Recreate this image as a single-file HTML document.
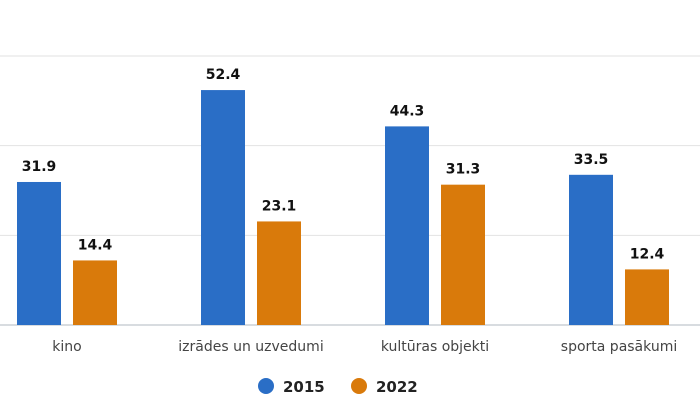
<!DOCTYPE html>
<html><head><meta charset="utf-8"><style>
body{margin:0;background:#fff;font-family:"DejaVu Sans","Liberation Sans",sans-serif;}
svg{display:block}
</style></head><body>
<svg id="c" width="700" height="402"></svg>
<script>
const categories=["kino","izrādes un uzvedumi","kultūras objekti","sporta pasākumi"];
const series2015=[31.9,52.4,44.3,33.5];
const series2022=[14.4,23.1,31.3,12.4];
const gridTicks=[0,20,40,60];
const seriesNames=["2015","2022"];
const colors=["#2a6ec6","#d97a0b"];
const svg=document.getElementById('c');
const NS='http://www.w3.org/2000/svg';
const y0=325, pxPerUnit=269/60;
const y=v=>y0-v*pxPerUnit;
const bandStart=-25, band=184;
const xc=i=>bandStart+band*(i+0.5);
function mk(t,a){const e=document.createElementNS(NS,t);for(const k in a)e.setAttribute(k,a[k]);svg.appendChild(e);return e;}
gridTicks.forEach(t=>{
  const l=mk('line',{x1:0,x2:700,y1:y(t),y2:y(t),stroke:t===0?'#ccd0d6':'#e2e2e2','stroke-width':t===0?1.5:1});
  
  
});
[series2015,series2022].forEach((s,si)=>{
  s.forEach((v,i)=>{
    const x=xc(i)-50+si*56;
    const r=mk('rect',{x:x,y:y(v),width:44,height:y0-y(v),fill:colors[si]});
    
    
    const t=mk('text',{x:x+22,y:y(v)-11,'text-anchor':'middle','font-size':14,'font-weight':'bold',fill:'#111'});
    t.textContent=v.toFixed(1);
    
    
  });
});
categories.forEach((c,i)=>{
  const t=mk('text',{x:xc(i),y:351,'text-anchor':'middle','font-size':14,fill:'#444'});
  t.textContent=c;
  
  
});
seriesNames.forEach((n,i)=>{
  const cx=266+i*93;
  const c=mk('circle',{cx:cx,cy:386,r:8,fill:colors[i]});
  
  
  const t=mk('text',{x:cx+17,y:392,'font-size':15,'font-weight':'bold',fill:'#222'});
  t.textContent=n;
  
  
});
</script>
</body></html>
